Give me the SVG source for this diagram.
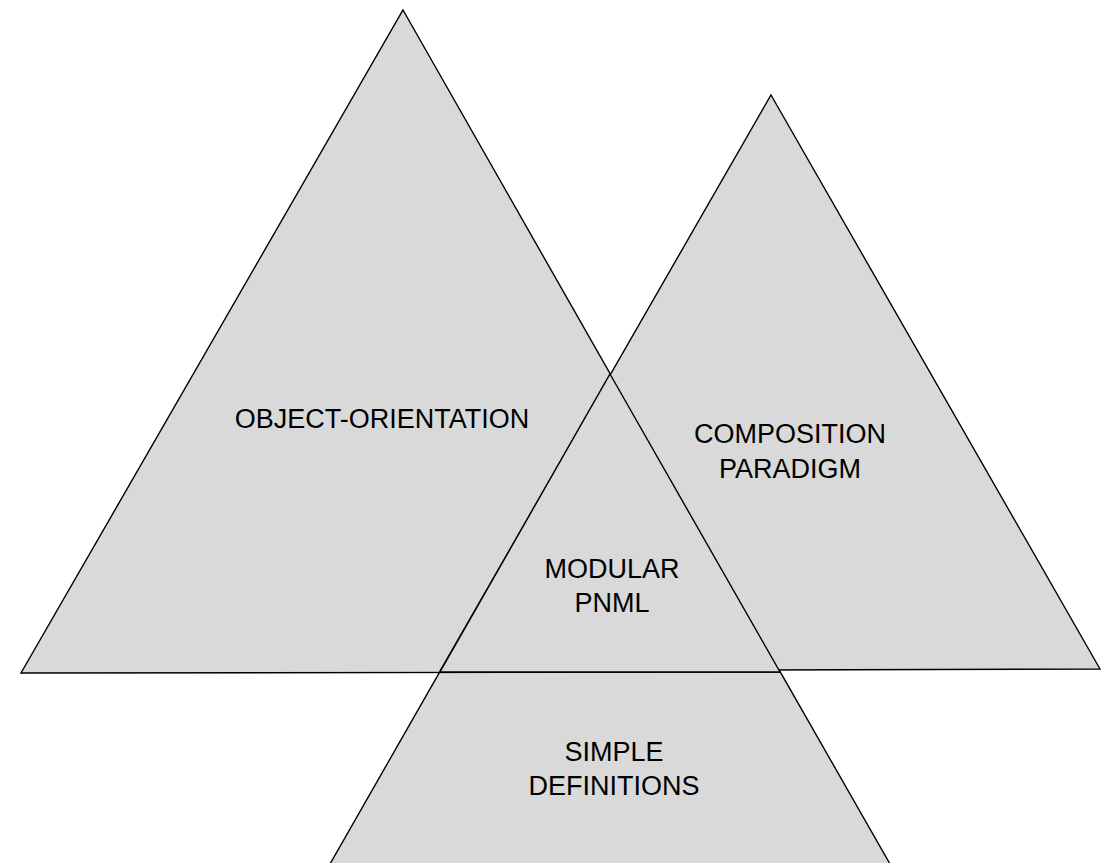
<svg xmlns="http://www.w3.org/2000/svg" width="1116" height="863" viewBox="0 0 1116 863">
<style>
.tri{fill:#d9d9d9;stroke:#000;stroke-width:1.4;stroke-linejoin:miter}
.lbl{font-family:"Liberation Sans",Arial,Helvetica,sans-serif;font-size:27px;fill:#000;text-anchor:middle}
</style>
<rect width="1116" height="863" fill="#fff"/>
<g id="simple-definitions">
<polygon class="tri" points="610,374 1002,1060 218,1060"/>
<text class="lbl" x="614" y="761">SIMPLE</text>
<text class="lbl" x="614" y="795">DEFINITIONS</text>
</g>
<g id="object-orientation">
<polygon class="tri" points="403,10 780,672 21,673"/>
<text class="lbl" x="382" y="428">OBJECT-ORIENTATION</text>
</g>
<g id="composition-paradigm">
<polygon class="tri" points="771,95 1100,669 440,671"/>
<text class="lbl" x="790" y="443">COMPOSITION</text>
<text class="lbl" x="790" y="478">PARADIGM</text>
</g>
<g id="modular-pnml">
<polygon class="tri" points="610,374 780,672 440,672"/>
<text class="lbl" x="612" y="578">MODULAR</text>
<text class="lbl" x="612" y="612">PNML</text>
</g>
<g id="connectors"></g>
</svg>
